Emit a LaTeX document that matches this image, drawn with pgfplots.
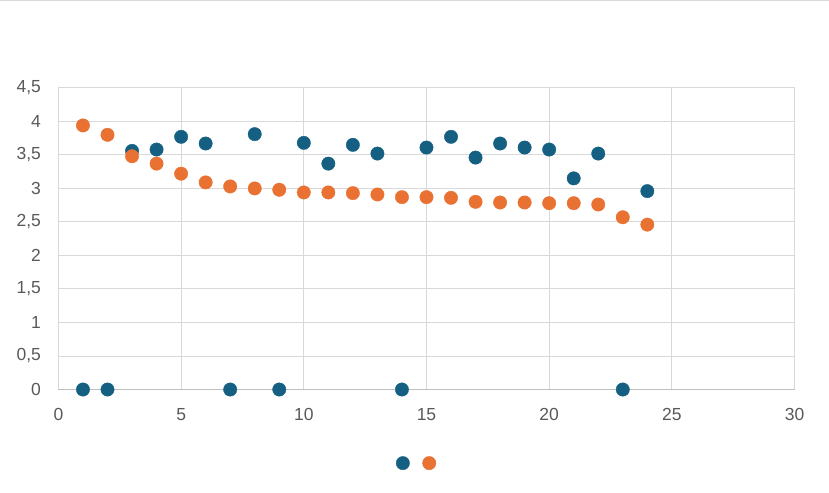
\documentclass[border=0pt]{standalone}
\usepackage{pgfplots}
\pgfplotsset{compat=1.18}
\usepackage{fontspec}
\setmainfont{Liberation Sans}
\definecolor{cblue}{HTML}{156082}
\definecolor{corange}{HTML}{E97132}
\definecolor{gridc}{HTML}{D9D9D9}
\definecolor{axisc}{HTML}{BFBFBF}
\definecolor{labc}{HTML}{595959}
\begin{document}
\begin{tikzpicture}
\begin{axis}[
  name=ax,
  scale only axis,
  width=737bp, height=302bp,
  xmin=0, xmax=30, ymin=0, ymax=4.5,
  xtick distance=5, ytick distance=0.5,
  grid=major,
  major grid style={draw=gridc, line width=1bp},
  axis lines*=left,
  x axis line style={draw=axisc, line width=1.2bp},
  y axis line style={draw=none},
  major tick length=0pt,
  /pgf/number format/assume math mode=true,
  /pgf/number format/use comma,
  ticklabel style={font=\fontsize{17.5bp}{20bp}\selectfont, text=labc},
  yticklabel style={xshift=-14bp},
  xticklabel style={yshift=-15bp},
  legend style={draw=none, fill=none, legend columns=2,
    at={(0.4865,-0.244)}, anchor=center,
    nodes={inner sep=0pt},
    /tikz/every even column/.append style={column sep=12bp}},
  legend image code/.code={\draw[#1] plot coordinates {(0bp,0bp)};},
]
\addplot[only marks, mark=*, mark size=6.7bp, mark options={draw=cblue, fill=cblue}] coordinates {
(1,0) (2,0) (3,3.56) (4,3.58) (5,3.77) (6,3.67) (7,0) (8,3.81) (9,0) (10,3.68)
(11,3.37) (12,3.65) (13,3.52) (14,0) (15,3.61) (16,3.77) (17,3.46) (18,3.67)
(19,3.61) (20,3.58) (21,3.15) (22,3.52) (23,0) (24,2.96)
};
\addlegendentry{}
\addplot[only marks, mark=*, mark size=6.7bp, mark options={draw=corange, fill=corange}] coordinates {
(1,3.94) (2,3.80) (3,3.48) (4,3.37) (5,3.22) (6,3.09) (7,3.03) (8,3.00) (9,2.98) (10,2.94)
(11,2.94) (12,2.93) (13,2.91) (14,2.87) (15,2.87) (16,2.86) (17,2.80) (18,2.79)
(19,2.79) (20,2.78) (21,2.78) (22,2.76) (23,2.57) (24,2.46)
};
\addlegendentry{}
\end{axis}
\draw[gridc, line width=1bp] ([xshift=-58bp,yshift=87.5bp]ax.north west) -- ([xshift=34bp,yshift=87.5bp]ax.north east);
\path[use as bounding box] ([xshift=-58bp,yshift=-103bp]ax.south west) rectangle ([xshift=34bp,yshift=88bp]ax.north east);
\end{tikzpicture}
\end{document}
